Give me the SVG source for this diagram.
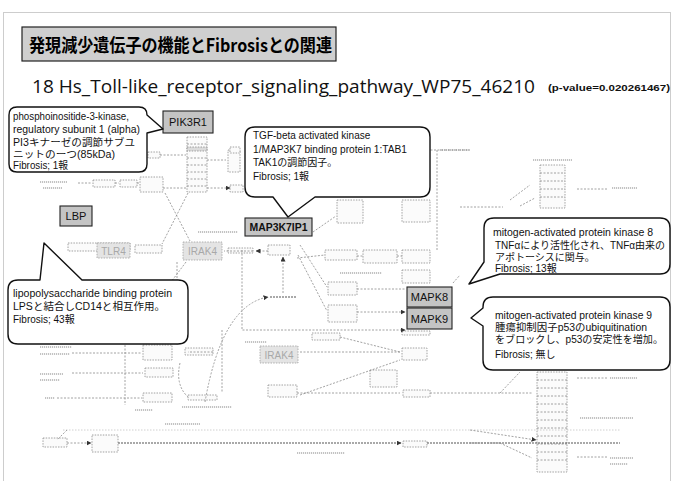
<svg xmlns="http://www.w3.org/2000/svg" width="675" height="481" viewBox="0 0 675 481">
<defs>
<style>
.bg{fill:#ffffff}
.frame{fill:none;stroke:#9a9a9a;stroke-width:1;stroke-dasharray:1 1}
.b{fill:#fbfbfb;stroke:#8c8c8c;stroke-width:0.8;stroke-dasharray:1.5 1.2}
.bf{fill:#dcdcdc;stroke:#8c8c8c;stroke-width:0.8;stroke-dasharray:1.5 1.2}
.l{fill:none;stroke:#8a8a8a;stroke-width:0.8;stroke-dasharray:2 1.5}
.lh{fill:none;stroke:#555;stroke-width:1.2;stroke-dasharray:2 1}
.lf{fill:none;stroke:#c4c4c4;stroke-width:0.8;stroke-dasharray:1.5 1.5}
.t{fill:none;stroke:#b0b0b0;stroke-width:1.6;stroke-dasharray:1.2 0.8}
.hl{fill:#c4c4c4;stroke:#222;stroke-width:1.1}
.fnode{fill:#e4e4e4;stroke:#a0a0a0;stroke-width:0.8;stroke-dasharray:1.5 1.2}
.co{fill:#ffffff;stroke:#111;stroke-width:1.4;stroke-linejoin:round}
.ct{font-family:"Liberation Sans","Noto Sans CJK JP",sans-serif;font-size:10px;fill:#111}
.nt{font-family:"Liberation Sans","Noto Sans CJK JP",sans-serif;font-size:11px;fill:#111;text-anchor:middle}
.ft{font-family:"Liberation Sans",sans-serif;font-size:10px;fill:#a8a8a8;text-anchor:middle}
</style>
<marker id="ah" markerWidth="5" markerHeight="5" refX="4.5" refY="2.5" orient="auto" markerUnits="userSpaceOnUse">
<path d="M0,0 L5,2.5 L0,5 Z" fill="#333"/>
</marker>
</defs>
<rect class="bg" x="0" y="0" width="675" height="481"/>
<rect class="frame" x="3.5" y="12.5" width="667" height="480"/>

<g id="title">
<rect x="22" y="27" width="314" height="34" fill="#cfcfcf" stroke="#222" stroke-width="1.2"/>
<text x="29" y="52" font-family="'Noto Sans CJK JP','Liberation Sans',sans-serif" font-size="18" font-weight="bold" fill="#000" textLength="303" lengthAdjust="spacingAndGlyphs">発現減少遺伝子の機能とFibrosisとの関連</text>
</g>
<g id="subtitle">
<text x="32" y="93" font-family="'Open Sans','Liberation Sans',sans-serif" font-size="19" fill="#111" textLength="503" lengthAdjust="spacingAndGlyphs">18 Hs_Toll-like_receptor_signaling_pathway_WP75_46210</text>
<text x="548" y="91" font-family="'Liberation Sans',sans-serif" font-size="9.5" font-weight="bold" fill="#111" textLength="122" lengthAdjust="spacingAndGlyphs">(p-value=0.020261467)</text>
</g>

<g id="pathway">
<rect class="b" x="148" y="152" width="12" height="6"/>
<rect class="b" x="187" y="137" width="20" height="55"/>
<rect class="bf" x="187" y="147" width="20" height="4"/>
<path class="l" d="M187,144H207M187,158H207M187,165H207M187,172H207M187,179H207M187,186H207"/>
<rect class="b" x="228" y="150" width="12" height="22"/>
<rect class="b" x="93" y="180" width="22" height="7"/>
<rect class="b" x="120" y="180" width="17" height="7"/>
<rect class="b" x="140" y="177" width="23" height="15"/>
<rect class="b" x="230" y="147" width="10" height="6"/>
<rect class="b" x="230" y="185" width="13" height="7"/>
<rect class="b" x="68" y="243" width="62" height="8"/>
<rect class="b" x="135" y="245" width="27" height="8"/>
<rect class="b" x="228" y="248" width="25" height="5"/>
<rect class="b" x="268" y="245" width="22" height="10"/>
<rect class="b" x="337" y="200" width="26" height="23"/>
<rect class="b" x="402" y="200" width="28" height="22"/>
<rect class="b" x="328" y="282" width="29" height="13"/>
<rect class="b" x="328" y="305" width="29" height="17"/>
<rect class="b" x="325" y="250" width="32" height="10"/>
<rect class="b" x="363" y="250" width="34" height="13"/>
<rect class="b" x="402" y="250" width="28" height="13"/>
<rect class="b" x="402" y="270" width="28" height="13"/>
<rect class="b" x="402" y="331" width="28" height="4"/>
<rect class="b" x="312" y="333" width="28" height="7"/>
<rect class="b" x="402" y="348" width="25" height="12"/>
<rect class="b" x="370" y="370" width="27" height="17"/>
<rect class="b" x="268" y="385" width="29" height="12"/>
<rect class="b" x="403" y="390" width="27" height="7"/>
<rect class="b" x="143" y="345" width="29" height="15"/>
<rect class="b" x="145" y="368" width="28" height="9"/>
<rect class="b" x="143" y="393" width="29" height="9"/>
<rect class="b" x="185" y="348" width="28" height="7"/>
<rect class="b" x="188" y="395" width="29" height="5"/>
<rect class="b" x="43" y="438" width="24" height="9"/>
<rect class="b" x="92" y="435" width="26" height="17"/>
<rect class="b" x="403" y="441" width="24" height="6"/>
<rect class="b" x="537" y="372" width="30" height="100"/>
<path class="l" d="M537,380H567M537,388H567M537,396H567M537,404H567M537,412H567M537,420H567M537,428H567M537,436H567M537,444H567M537,452H567M537,460H567"/>
<rect class="b" x="540" y="165" width="25" height="43"/>
<path class="l" d="M540,173H565M540,181H565M540,189H565M540,197H565"/>
<path class="t" d="M40,182H67M43,188H62M198,232H238M340,273H382M245,342H267M40,347H72M40,354H70M40,374H63M40,380H60M45,398H55M135,410H153M182,407H232M165,424H200M297,453H345M533,160H572M612,188H637M580,418H633M610,378H637M610,458H633M610,464H628M440,150H470"/>

<path class="l" d="M160,155H186M207,160H226M78,183H92M115,183H119M137,183H139M163,188H186M207,188H230" marker-end="url(#ah)"/>
<path class="l" d="M165,193L190,241M188,193L162,244M186,262L165,290M140,285L118,300"/>
<path class="l" d="M253,251H224M268,251H256" marker-end="url(#ah)"/>
<path class="l" d="M283,293V257" marker-end="url(#ah)"/>
<path class="lh" d="M270,297H297"/>
<path class="l" d="M313,232L336,216M300,245L327,287M298,255L327,311M357,289H405M357,312H405" marker-end="url(#ah)"/>
<path class="l" d="M242,250V330H405" marker-end="url(#ah)"/>
<path class="l" d="M205,402Q222,305 268,297" marker-end="url(#ah)"/>
<path class="l" d="M213,352H188M300,352H400M297,393H400M72,353H141M72,373H143M57,398H142M67,443H91" marker-end="url(#ah)"/>
<path class="l" d="M125,345V405M222,330V393M177,262V345M437,150V250M420,150H470M430,393H470M453,283L460,275M340,337L400,352M300,395L400,360"/>
<path class="l" d="M297,258L325,255M357,256L363,256M397,256L402,256"/>
<path class="l" d="M180,363Q175,385 188,397"/>
<path class="lf" d="M63,430H620"/>
<path class="l" d="M67,430L57,440"/>
<path class="lh" d="M118,443H401" marker-end="url(#ah)"/>
<path class="lh" d="M427,443H620"/>
<path class="l" d="M577,189H607M460,207H503M470,393H532M500,443L532,458M577,378H607M577,457H607M470,430L536,440" marker-end="url(#ah)"/>
<path class="l" d="M470,443H500M500,393L520,372M510,200L530,185M520,206L535,198"/>
</g>

<g id="node-tlr4"><rect class="fnode" x="97" y="243" width="33" height="15"/><text class="ft" x="113.5" y="254.5">TLR4</text></g>
<g id="node-irak4a"><rect class="fnode" x="183" y="242" width="39" height="18"/><text class="ft" x="202.5" y="255">IRAK4</text></g>
<g id="node-irak4b"><rect class="fnode" x="260" y="346" width="38" height="17"/><text class="ft" x="279" y="358.5">IRAK4</text></g>

<g id="node-pik3r1"><rect class="hl" x="163" y="111" width="50" height="22"/><text class="nt" x="188" y="126">PIK3R1</text></g>
<g id="node-lbp"><rect class="hl" x="60" y="206" width="32" height="20"/><text class="nt" x="76" y="220">LBP</text></g>
<g id="node-map3k7ip1"><rect class="hl" x="245" y="218" width="67" height="18"/><text class="nt" x="278.5" y="231" font-size="10" font-weight="bold" textLength="58" lengthAdjust="spacingAndGlyphs">MAP3K7IP1</text></g>
<g id="node-mapk8"><rect class="hl" x="407" y="287" width="45" height="20"/><text class="nt" x="429.5" y="301">MAPK8</text></g>
<g id="node-mapk9"><rect class="hl" x="407" y="308" width="45" height="21"/><text class="nt" x="429.5" y="323">MAPK9</text></g>

<g id="callout-pik3r1">
<path class="co" d="M17,107H139Q147,107 147,115L163,129L147,133V164Q147,172 139,172H17Q9,172 9,164V115Q9,107 17,107Z"/>
<text class="ct" x="13" y="120" textLength="116" lengthAdjust="spacingAndGlyphs">phosphoinositide-3-kinase,</text>
<text class="ct" x="13" y="133" textLength="127" lengthAdjust="spacingAndGlyphs">regulatory subunit 1 (alpha)</text>
<text class="ct" x="13" y="146" font-size="11" textLength="122" lengthAdjust="spacingAndGlyphs">PI3キナーゼの調節サブユ</text>
<text class="ct" x="13" y="158" textLength="102" lengthAdjust="spacingAndGlyphs">ニットのーつ(85kDa)</text>
<text class="ct" x="13" y="169" textLength="55" lengthAdjust="spacingAndGlyphs">Fibrosis; 1報</text>
</g>

<g id="callout-map3k7ip1">
<path class="co" d="M255,127H420Q430,127 430,137V187Q430,197 420,197H315L288,217L273,197H255Q245,197 245,187V137Q245,127 255,127Z"/>
<text class="ct" x="253" y="139">TGF-beta activated kinase</text>
<text class="ct" x="253" y="153" textLength="154" lengthAdjust="spacingAndGlyphs">1/MAP3K7 binding protein 1:TAB1</text>
<text class="ct" x="253" y="166" font-size="11">TAK1の調節因子。</text>
<text class="ct" x="253" y="180">Fibrosis; 1報</text>
</g>

<g id="callout-lbp">
<path class="co" d="M18,280H40L44,243L82,280H178Q188,280 188,290V334Q188,344 178,344H18Q8,344 8,334V290Q8,280 18,280Z"/>
<text class="ct" x="13" y="297" textLength="159" lengthAdjust="spacingAndGlyphs">lipopolysaccharide binding protein</text>
<text class="ct" x="13" y="310" font-size="11" textLength="152" lengthAdjust="spacingAndGlyphs">LPSと結合しCD14と相互作用。</text>
<text class="ct" x="13" y="323">Fibrosis; 43報</text>
</g>

<g id="callout-mapk8">
<path class="co" d="M494,218H660Q670,218 670,228V264Q670,274 660,274H500L469,284L484,262V228Q484,218 494,218Z"/>
<text class="ct" x="493" y="236" textLength="160" lengthAdjust="spacingAndGlyphs">mitogen-activated protein kinase 8</text>
<text class="ct" x="495" y="249" font-size="11" textLength="170" lengthAdjust="spacingAndGlyphs">TNFαにより活性化され、TNFα由来の</text>
<text class="ct" x="495" y="261" font-size="11">アポトーシスに関与。</text>
<text class="ct" x="495" y="272">Fibrosis; 13報</text>
</g>

<g id="callout-mapk9">
<path class="co" d="M493,297H660Q670,297 670,307V360Q670,370 660,370H493Q483,370 483,360V326L471,318L483,308V307Q483,297 493,297Z"/>
<text class="ct" x="495" y="319" textLength="157" lengthAdjust="spacingAndGlyphs">mitogen-activated protein kinase 9</text>
<text class="ct" x="495" y="331" font-size="11" textLength="152" lengthAdjust="spacingAndGlyphs">腫瘍抑制因子p53のubiquitination</text>
<text class="ct" x="495" y="343" font-size="11" textLength="168" lengthAdjust="spacingAndGlyphs">をブロックし、p53の安定性を増加。</text>
<text class="ct" x="495" y="358">Fibrosis; 無し</text>
</g>
</svg>
